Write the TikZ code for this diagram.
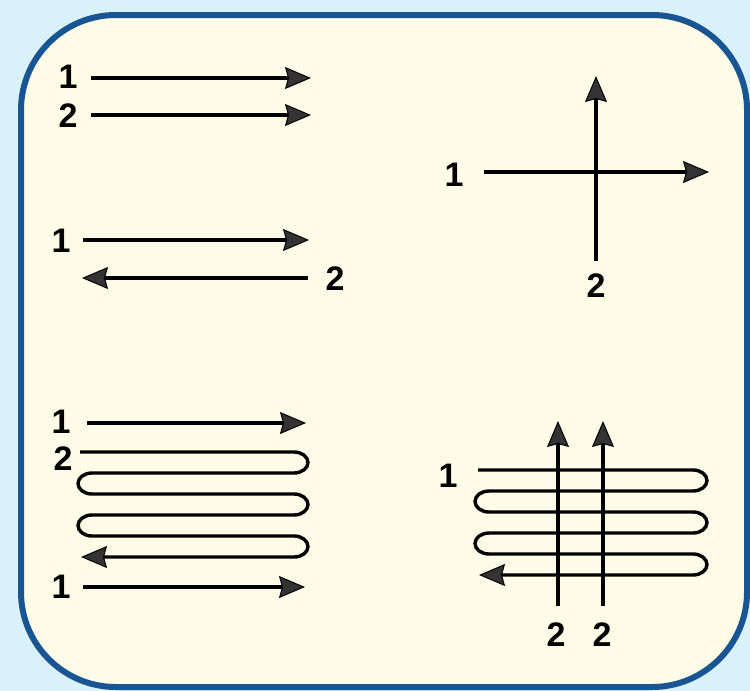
\documentclass[tikz,border=0pt]{standalone}
\usepackage{fontspec}
\setmainfont{Liberation Sans}
\usetikzlibrary{arrows.meta}
\definecolor{bgblue}{HTML}{D9F1F9}
\definecolor{cream}{HTML}{FEFCE7}
\definecolor{framecol}{HTML}{185592}
\definecolor{tipgray}{HTML}{333333}
\begin{document}
\begin{tikzpicture}[x=1pt,y=-1pt,
  lbl/.style={font=\fontsize{34}{36}\selectfont\bfseries, inner sep=0pt},
  tipstyle/.style={-{Stealth[length=26pt,width=22pt,inset=3pt,line width=1pt,fill=tipgray]}},
  flow/.style={line width=3.4pt, tipstyle},
  snake/.style={line width=3.4pt},
  turn/.style={x radius=14, y radius=10.5}]
\useasboundingbox (0,0) rectangle (750,691);
\fill[bgblue] (0,0) rectangle (750,691);
\draw[framecol, line width=6pt, fill=cream, rounded corners=95pt] (21,15) rectangle (747,687);

% panel 1: parallel
\node[lbl] (p1a) at (68,77) {1};
\node[lbl] (p1b) at (68,116) {2};
\coordinate (p1as) at (91,78);  \coordinate (p1ae) at (311,78);
\coordinate (p1bs) at (91,115); \coordinate (p1be) at (311,115);
\draw[flow] (p1as) -- (p1ae);
\draw[flow] (p1bs) -- (p1be);

% panel 2: counter
\node[lbl] (p2a) at (61,241) {1};
\node[lbl] (p2b) at (335,279) {2};
\coordinate (p2as) at (83,240);  \coordinate (p2ae) at (309,240);
\coordinate (p2bs) at (308,278); \coordinate (p2be) at (82,278);
\draw[flow] (p2as) -- (p2ae);
\draw[flow] (p2bs) -- (p2be);

% panel 3: cross
\node[lbl] (p3a) at (454,175) {1};
\node[lbl] (p3b) at (596,286) {2};
\coordinate (p3as) at (484,172); \coordinate (p3ae) at (709,172);
\coordinate (p3bs) at (596,261); \coordinate (p3be) at (596,76);
\draw[flow] (p3as) -- (p3ae);
\draw[flow] (p3bs) -- (p3be);

% panel 4: serpentine with counter
\node[lbl] (p4a) at (61,422) {1};
\node[lbl] (p4b) at (63,459) {2};
\node[lbl] (p4c) at (61,587) {1};
\coordinate (p4as) at (87,423);  \coordinate (p4ae) at (306,423);
\coordinate (p4cs) at (83,587);  \coordinate (p4ce) at (305,587);
\coordinate (p4bs) at (80,452);  \coordinate (p4be) at (81,557);
\draw[flow] (p4as) -- (p4ae);
\draw[flow] (p4cs) -- (p4ce);
\draw[snake, tipstyle] (p4bs) -- (294,452) arc[start angle=-90,end angle=90,turn]
  -- (92,473) arc[start angle=270,end angle=90,turn]
  -- (294,494) arc[start angle=-90,end angle=90,turn]
  -- (92,515) arc[start angle=270,end angle=90,turn]
  -- (294,536) arc[start angle=-90,end angle=90,turn]
  -- (p4be);

% panel 5: serpentine with cross
\node[lbl] (p5a) at (448,476) {1};
\node[lbl] (p5b) at (556,635) {2};
\node[lbl] (p5c) at (602,635) {2};
\coordinate (p5as) at (478,470); \coordinate (p5ae) at (479,575);
\draw[snake, tipstyle] (p5as) -- (693,470) arc[start angle=-90,end angle=90,turn]
  -- (489,491) arc[start angle=270,end angle=90,turn]
  -- (693,512) arc[start angle=-90,end angle=90,turn]
  -- (489,533) arc[start angle=270,end angle=90,turn]
  -- (693,554) arc[start angle=-90,end angle=90,turn]
  -- (p5ae);
\coordinate (p5bs) at (558,606); \coordinate (p5be) at (558,421);
\coordinate (p5cs) at (603,606); \coordinate (p5ce) at (603,421);
\draw[flow] (p5bs) -- (p5be);
\draw[flow] (p5cs) -- (p5ce);
\end{tikzpicture}
\end{document}
